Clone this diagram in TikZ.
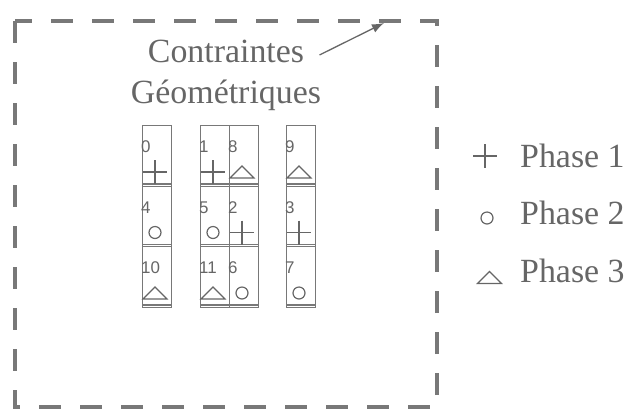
\documentclass[tikz,border=0pt]{standalone}
\usepackage{fontspec}
\setmainfont{Liberation Serif}
\newfontfamily\numfont{Liberation Sans}
\usepackage{xcolor}
\usetikzlibrary{arrows.meta,positioning}
\definecolor{frameg}{gray}{0.47}
\definecolor{inkg}{gray}{0.40}
\tikzset{cell/.style={draw=frameg,line width=1.4pt,minimum width=29bp,
           minimum height=60.5bp,inner sep=0pt,anchor=north west},
         num/.style={font=\numfont\fontsize{17}{17}\selectfont,text=inkg,
           inner sep=0pt,anchor=west},
         mk/.style={draw=inkg,line width=1.2pt},
         lbl/.style={font=\fontsize{34}{34}\selectfont,text=inkg,inner sep=0pt},
         frame/.style={draw=frameg,line width=4.5bp,dash pattern=on 22bp off 19bp},
         pointer/.style={-{Latex[length=12bp,width=9bp]},draw=inkg,line width=1.3pt},
         plusmk/.pic={\draw[mk] (-12,0) -- (12,0) (0,-12) -- (0,12);},
         circmk/.pic={\draw[mk] (0,0) circle[radius=6bp];},
         trimk/.pic={\draw[mk] (-12,6) -- (0,-6) -- (12,6) -- cycle;}}
\begin{document}
\begin{tikzpicture}[x=1bp,y=-1bp]
\useasboundingbox (0,0) rectangle (632,409);
% frame
\draw[frame] (15,21) rectangle (437,407);
\coordinate (corner) at (384,23);
\node[lbl,anchor=base] (txtA) at (226,62) {Contraintes};
\node[lbl,anchor=base] (txtB) at (226,103) {Géométriques};
\draw[pointer,shorten <=17bp] (txtA.south east) -- (corner);
% cells: number / left / top / mark
\foreach \n/\x/\y/\m in {0/142/125/plusmk, 4/142/185.5/circmk, 10/142/246/trimk,
    1/200/125/plusmk, 5/200/185.5/circmk, 11/200/246/trimk,
    8/229/125/trimk, 2/229/185.5/plusmk, 6/229/246/circmk,
    9/286/125/trimk, 3/286/185.5/plusmk, 7/286/246/circmk}{
  \node[cell] (c\n) at (\x,\y) {};
  \draw[draw=frameg,line width=1.4pt] ([yshift=3bp]c\n.south west) -- ([yshift=3bp]c\n.south east);
  \node[num] (n\n) at ([shift={(-1,22)}]c\n.north west) {\n};
  \pic at ([shift={(13,47)}]c\n.north west) {\m};
}
% legend
\pic at (485,156) {plusmk};
\pic at (487,218) {circmk};
\pic at (489.5,277.5) {trimk};
\node[lbl,anchor=base west] (ph1) at (520,167) {Phase 1};
\node[lbl,anchor=base west] (ph2) at (520,224) {Phase 2};
\node[lbl,anchor=base west] (ph3) at (520,282) {Phase 3};
\end{tikzpicture}
\end{document}
